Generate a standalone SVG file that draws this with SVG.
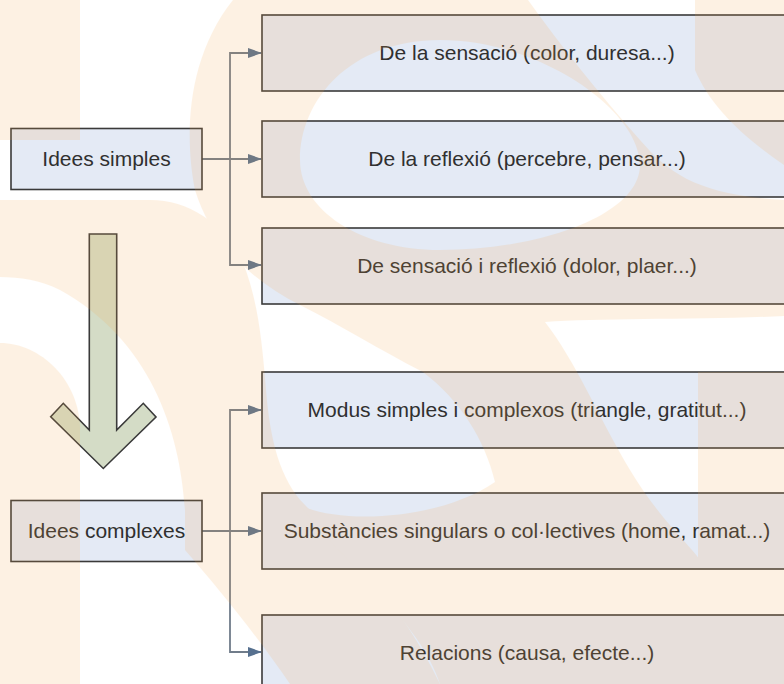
<svg xmlns="http://www.w3.org/2000/svg" width="784" height="684" viewBox="0 0 784 684">
<defs>
<style>
.box{fill:#e4eaf5;stroke:#3a3a3a;stroke-width:1.6}
.lbl{font-family:"Liberation Sans",Arial,sans-serif;font-size:21px;fill:#303030;text-anchor:middle}
.con{fill:none;stroke:#707c8a;stroke-width:1.8}
.wm{fill:#f8a84b}
</style>
<marker id="ah" viewBox="0 0 14 10" refX="13" refY="5" markerWidth="14" markerHeight="10" markerUnits="userSpaceOnUse" orient="auto">
<path d="M0,0 L14,5 L0,10 Z" fill="#56708f"/>
</marker>
</defs>
<rect width="784" height="684" fill="#fff"/>

<g id="connectors">
<path class="con" d="M202,159 H261" marker-end="url(#ah)"/>
<path class="con" d="M230,159 V53 H261" marker-end="url(#ah)"/>
<path class="con" d="M230,159 V265 H261" marker-end="url(#ah)"/>
<path class="con" d="M202,531 H261" marker-end="url(#ah)"/>
<path class="con" d="M230,531 V410 H261" marker-end="url(#ah)"/>
<path class="con" d="M230,531 V652 H261" marker-end="url(#ah)"/>
</g>

<g id="idees-simples"><rect class="box" x="11" y="128.5" width="191" height="61"/><text class="lbl" x="106.5" y="166">Idees simples</text></g>
<g id="idees-complexes"><rect class="box" x="11" y="500.5" width="191" height="61"/><text class="lbl" x="106.5" y="538">Idees complexes</text></g>

<g id="sensacio"><rect class="box" x="262" y="15" width="540" height="76"/><text class="lbl" x="527" y="60">De la sensació (color, duresa...)</text></g>
<g id="reflexio"><rect class="box" x="262" y="121" width="540" height="76"/><text class="lbl" x="527" y="166">De la reflexió (percebre, pensar...)</text></g>
<g id="sensacio-reflexio"><rect class="box" x="262" y="228" width="540" height="76"/><text class="lbl" x="527" y="273">De sensació i reflexió (dolor, plaer...)</text></g>
<g id="modus"><rect class="box" x="262" y="372" width="540" height="76"/><text class="lbl" x="527" y="417">Modus simples i complexos (triangle, gratitut...)</text></g>
<g id="substancies"><rect class="box" x="262" y="493" width="540" height="76"/><text class="lbl" x="527" y="538">Substàncies singulars o col·lectives (home, ramat...)</text></g>
<g id="relacions"><rect class="box" x="262" y="615" width="540" height="76"/><text class="lbl" x="527" y="660">Relacions (causa, efecte...)</text></g>

<g id="big-arrow"><path d="M89.3,234 H116.7 V430 L143.3,403.3 L156,417 L103.3,468.5 L50.7,416.7 L63.3,403.3 L89.3,430 Z" fill="#d4dcc6" stroke="#3a3a3a" stroke-width="1.6"/></g>

<g id="watermark" opacity="0.15">
<path class="wm" d="M0,0 H80 V140 H0 Z"/>
<path class="wm" d="M0,200 L150,200 C190,200 225,225 242,260 C258,300 262,340 266,390 C270,440 280,480 305,505 C340,540 400,600 440,684 L290,684 C260,640 220,590 185,550 L185,510 C180,430 150,340 60,290 C40,280 20,277 0,277 Z"/>
<path class="wm" d="M0,343 C40,343 80,380 80,430 L80,684 L0,684 Z"/>
<path class="wm" fill-rule="evenodd" d="M233,0 L528,0 C560,45 600,95 640,140 C670,175 700,195 784,200 L784,316 C700,320 600,318 545,322 C575,360 600,420 630,470 C660,520 690,545 700,560 L700,684 L440,684 C420,620 340,560 300,505 C340,525 440,520 495,482 C485,440 460,400 423,372 C380,350 340,325 300,305 C250,280 210,240 195,190 C185,140 185,60 233,0 Z M440,40 C540,40 640,110 640,165 C640,215 540,250 440,250 C360,250 300,210 300,160 C300,100 350,40 440,40 Z"/>
<path class="wm" d="M695,0 H784 V165 C740,135 710,105 695,70 Z"/>
<path class="wm" d="M698,372 H784 V684 H698 Z"/>
</g>
</svg>
